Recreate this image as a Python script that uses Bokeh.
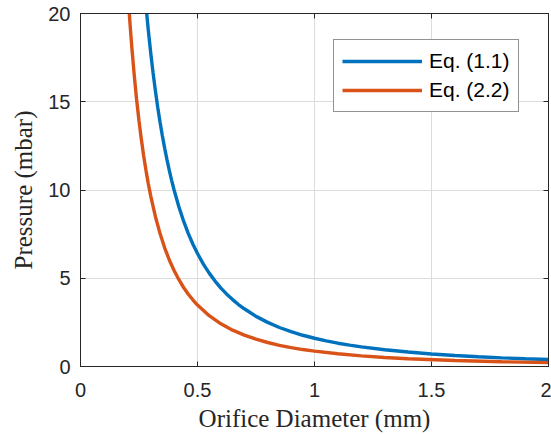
from bokeh.plotting import figure
from bokeh.models import Range1d, LinearAxis, FixedTicker, CustomJSTickFormatter, Legend, LegendItem
from bokeh.embed import file_html
from bokeh.resources import INLINE

# Eq. (1.1)
d_eq11 = [0.27, 0.28, 0.29, 0.30, 0.31, 0.32, 0.33, 0.34, 0.35, 0.36, 0.37, 0.38, 0.39, 0.40,
          0.42, 0.44, 0.46, 0.48, 0.50, 0.525, 0.55, 0.575, 0.60, 0.625, 0.65, 0.675, 0.70,
          0.75, 0.80, 0.85, 0.90, 0.95, 1.0, 1.05, 1.1, 1.15, 1.2, 1.3, 1.4, 1.5, 1.6, 1.7,
          1.8, 1.9, 2.0]
p_eq11 = [21.95, 20.41, 19.02, 17.78, 16.65, 15.63, 14.69, 13.84, 13.06, 12.35, 11.69, 11.08, 10.52, 10.0,
          9.07, 8.26, 7.56, 6.94, 6.40, 5.80, 5.29, 4.84, 4.44, 4.10, 3.79, 3.51, 3.27,
          2.84, 2.50, 2.21, 1.98, 1.77, 1.60, 1.45, 1.32, 1.21, 1.11, 0.95, 0.82, 0.71, 0.625, 0.55,
          0.49, 0.44, 0.40]
# Eq. (2.2)
d_eq22 = [0.20, 0.205, 0.21, 0.215, 0.22, 0.23, 0.24, 0.25, 0.26, 0.27, 0.28, 0.29, 0.30, 0.32,
          0.34, 0.36, 0.38, 0.40, 0.42, 0.44, 0.46, 0.48, 0.50, 0.55, 0.60, 0.65, 0.70, 0.75,
          0.80, 0.85, 0.90, 0.95, 1.0, 1.1, 1.2, 1.3, 1.4, 1.6, 1.8, 2.0]
p_eq22 = [21.75, 20.70, 19.73, 18.82, 17.98, 16.45, 15.10, 13.92, 12.87, 11.93, 11.10, 10.34, 9.67, 8.50,
          7.53, 6.71, 6.02, 5.44, 4.93, 4.49, 4.11, 3.78, 3.48, 2.88, 2.42, 2.06, 1.78, 1.55,
          1.36, 1.20, 1.07, 0.96, 0.87, 0.72, 0.60, 0.51, 0.44, 0.34, 0.27, 0.22]

x_ticks = [0, 0.5, 1, 1.5, 2]
y_ticks = [0, 5, 10, 15, 20]
labels = ["Eq. (1.1)", "Eq. (2.2)"]

AX = "#262626"
p = figure(width=551, height=434, output_backend="svg", toolbar_location=None,
           x_range=Range1d(0, 2), y_range=Range1d(0, 20),
           min_border_left=80, min_border_right=3, min_border_top=13, min_border_bottom=67)
p.background_fill_color = "white"
p.border_fill_color = "white"
p.outline_line_color = AX
p.outline_line_width = 1

r1 = p.line(d_eq11, p_eq11, line_color="#0072BD", line_width=3.4)
r2 = p.line(d_eq22, p_eq22, line_color="#D95319", line_width=3.4)

for ax in (p.xaxis[0], p.yaxis[0]):
    ax.axis_line_color = AX
    ax.major_tick_line_color = AX
    ax.major_tick_in = 5
    ax.major_tick_out = 0
    ax.minor_tick_line_color = None
    ax.major_label_text_font = "Liberation Sans"
    ax.major_label_text_font_size = "20px"
    ax.major_label_text_color = AX
    ax.axis_label_text_font = "Liberation Serif"
    ax.axis_label_text_font_size = "25px"
    ax.axis_label_text_font_style = "normal"
    ax.axis_label_text_color = AX

p.xaxis[0].ticker = FixedTicker(ticks=x_ticks)
p.yaxis[0].ticker = FixedTicker(ticks=y_ticks)
p.xaxis[0].axis_label = "Orifice Diameter (mm)"
p.yaxis[0].axis_label = "Pressure (mbar)"
p.xaxis[0].major_label_standoff = 16
p.yaxis[0].major_label_standoff = 10
p.xaxis[0].axis_label_standoff = 5
p.yaxis[0].axis_label_standoff = 8

empty = CustomJSTickFormatter(code="return ''")
top = LinearAxis(ticker=FixedTicker(ticks=x_ticks), formatter=empty)
right = LinearAxis(ticker=FixedTicker(ticks=y_ticks), formatter=empty)
for ax in (top, right):
    ax.axis_line_color = AX
    ax.major_tick_line_color = AX
    ax.major_tick_in = 5
    ax.major_tick_out = 0
    ax.minor_tick_line_color = None
    ax.major_label_standoff = 0
    ax.major_label_text_font_size = "0px"
p.add_layout(top, "above")
p.add_layout(right, "right")

p.xgrid.ticker = FixedTicker(ticks=x_ticks)
p.ygrid.ticker = FixedTicker(ticks=y_ticks)
p.grid.grid_line_color = "#dcdcdc"
p.grid.grid_line_width = 1

legend = Legend(items=[LegendItem(label=labels[0], renderers=[r1]),
                       LegendItem(label=labels[1], renderers=[r2])],
                location=(253, 254))
legend.label_text_font = "Liberation Sans"
legend.label_text_font_size = "21px"
legend.label_text_color = "black"
legend.glyph_width = 80
legend.glyph_height = 26
legend.label_height = 26
legend.label_standoff = 7
legend.padding = 8
legend.spacing = 3
legend.margin = 0
legend.border_line_color = AX
legend.border_line_width = 1
legend.background_fill_alpha = 1
p.add_layout(legend)

open("out.html", "w").write(file_html(p, INLINE))
